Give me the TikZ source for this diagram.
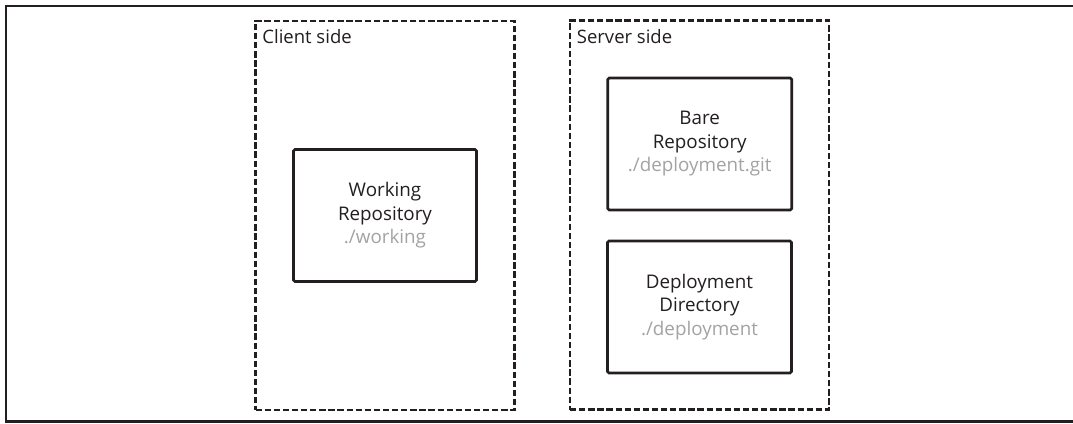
\documentclass[tikz,border=0pt]{standalone}
\usepackage{fontspec}
\setmainfont{Open Sans}
\usetikzlibrary{calc}
\definecolor{inkc}{HTML}{231F20}
\definecolor{graytxt}{HTML}{A3A3A3}
\tikzset{
  sidebox/.style={draw=inkc, line width=2.6pt, dash pattern=on 6.3pt off 2.8pt, minimum width=#1, inner sep=0pt},
  repobox/.style={draw=inkc, line width=2.6pt, rounded corners=1.5pt, minimum width=184pt, minimum height=132pt, inner sep=0pt, align=center, font=\fontsize{18.8}{23.5}\selectfont, text=inkc},
  sidelabel/.style={anchor=base west, font=\fontsize{18.5}{22}\selectfont, text=inkc, inner sep=0pt},
}
\newcommand{\pathtxt}[1]{\textcolor{graytxt}{#1}}
\begin{document}
\begin{tikzpicture}[x=1pt,y=-1pt]
\useasboundingbox (0,0) rectangle (1073,423);
\fill[white] (0,0) rectangle (1073,423);
% outer frame
\coordinate (ftr) at (1073,6);
\coordinate (ftl) at (6,6);
\coordinate (fbl) at (6,421.5);
\coordinate (fbr) at (1073,421.5);
\draw[inkc, line width=2.2pt] (ftr) -- (ftl) -- (fbl) -- (fbr);
% side areas
\node[sidebox=259pt, minimum height=389pt] (client) at (385,215.5) {};
\node[sidebox=259pt, minimum height=389pt] (server) at (699.5,215) {};
\node[sidelabel] (clientlbl) at ($(client.north west)+(8,24)$) {Client side};
\node[sidelabel] (serverlbl) at ($(server.north west)+(8,24)$) {Server side};
% repositories
\node[repobox, minimum width=183pt, minimum height=132pt] (working) at (385,215.5) {Working\\Repository\\\pathtxt{./working}};
\node[repobox] (bare) at (699.7,144) {Bare\\Repository\\\pathtxt{./deployment.git}};
\node[repobox] (deploy) at (699.5,307) {Deployment\\Directory\\\pathtxt{./deployment}};
\end{tikzpicture}
\end{document}
